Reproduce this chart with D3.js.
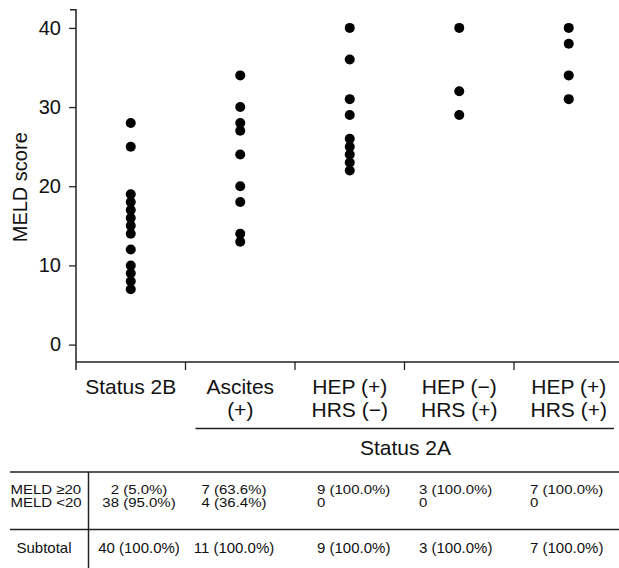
<!DOCTYPE html>
<html>
<head>
<meta charset="utf-8">
<script src="https://cdn.jsdelivr.net/npm/d3@7/dist/d3.min.js"></script>
<style>
  html, body { margin: 0; padding: 0; background: #fff; }
  svg { display: block; font-family: "Liberation Sans", Arial, Helvetica, sans-serif; }
</style>
</head>
<body>
<svg id="chart" width="619" height="568"></svg>
<script>
// ---- Data ----
const categories = ["Status 2B", "Ascites (+)", "HEP (+) HRS (−)", "HEP (−) HRS (+)", "HEP (+) HRS (+)"];
const categoryLines = [["Status 2B"], ["Ascites", "(+)"], ["HEP (+)", "HRS (−)"], ["HEP (−)", "HRS (+)"], ["HEP (+)", "HRS (+)"]];
const status2B = [28, 25, 19, 18, 17, 16, 15, 14, 12, 10, 9, 8, 7];
const ascites = [34, 30, 28, 27, 24, 20, 18, 14, 13];
const hepPosHrsNeg = [40, 36, 31, 29, 26, 25, 24, 23, 22];
const hepNegHrsPos = [40, 32, 29];
const hepPosHrsPos = [40, 38, 34, 31];
const seriesValues = [status2B, ascites, hepPosHrsNeg, hepNegHrsPos, hepPosHrsPos];
const yTicks = [0, 10, 20, 30, 40];
const yLabel = "MELD score";
const groupLabel = "Status 2A";
const tableRowLabels = ["MELD ≥20", "MELD <20"];
const meldHigh = ["2 (5.0%)", "7 (63.6%)", "9 (100.0%)", "3 (100.0%)", "7 (100.0%)"];
const meldLow = ["38 (95.0%)", "4 (36.4%)", "0", "0", "0"];
const subtotalLabel = "Subtotal";
const subtotal = ["40 (100.0%)", "11 (100.0%)", "9 (100.0%)", "3 (100.0%)", "7 (100.0%)"];

// ---- Layout ----
const svg = d3.select("#chart");
const W = 619;
const axisX = 76, axisBottom = 362, axisTop = 9.7;
const y = d3.scaleLinear().domain([-2.2, 42.3]).range([axisBottom, axisTop]);
const x = d3.scaleBand().domain(categories).range([axisX, 623.5]).padding(0);

// Y axis
const yAxis = d3.axisLeft(y).tickValues(yTicks).tickSize(7).tickSizeOuter(0).tickPadding(8);
const gy = svg.append("g").attr("transform", `translate(${axisX},0)`).call(yAxis);
gy.select(".domain").attr("d", `M-6,${axisTop}H0V${axisBottom + 8}`).attr("stroke", "#222").attr("stroke-width", 1.5);
gy.selectAll(".tick line").attr("stroke", "#222").attr("stroke-width", 1.3);
gy.selectAll(".tick text").attr("font-size", 20).attr("fill", "#111").attr("font-family", "Liberation Sans, Arial, sans-serif");

svg.append("text")
  .attr("transform", `translate(27,${(y(0) + y(40)) / 2 + 1}) rotate(-90)`)
  .attr("text-anchor", "middle")
  .attr("font-size", 20).attr("fill", "#111")
  .text(yLabel);

// X axis (category separators)
svg.append("line").attr("x1", axisX).attr("x2", W).attr("y1", axisBottom).attr("y2", axisBottom)
  .attr("stroke", "#222").attr("stroke-width", 1.5);
svg.selectAll(".xtick").data(categories.slice(1)).enter().append("line")
  .attr("x1", d => x(d)).attr("x2", d => x(d))
  .attr("y1", axisBottom).attr("y2", axisBottom + 8)
  .attr("stroke", "#222").attr("stroke-width", 1.3);

// Category labels
categories.forEach((c, i) => {
  const t = svg.append("text").attr("text-anchor", "middle").attr("font-size", 21).attr("fill", "#111");
  categoryLines[i].forEach((ln, j) => {
    t.append("tspan").attr("x", x(c) + x.bandwidth() / 2).attr("y", 394 + j * 23).text(ln);
  });
});

// Status 2A group
svg.append("line").attr("x1", x(categories[1]) + 10).attr("x2", 614)
  .attr("y1", 428.5).attr("y2", 428.5).attr("stroke", "#222").attr("stroke-width", 1.3);
svg.append("text").attr("x", (x(categories[1]) + 623.5) / 2 + 1).attr("y", 455)
  .attr("text-anchor", "middle").attr("font-size", 21).attr("fill", "#111").text(groupLabel);

// Dots
seriesValues.forEach((vals, i) => {
  svg.selectAll(null).data(vals).enter().append("circle")
    .attr("cx", x(categories[i]) + x.bandwidth() / 2)
    .attr("cy", d => y(d))
    .attr("r", 5)
    .attr("fill", "#000");
});

// Table
const tTop = 472, tMid = 529.5;
svg.append("line").attr("x1", 10).attr("x2", W).attr("y1", tTop).attr("y2", tTop).attr("stroke", "#222").attr("stroke-width", 1.3);
svg.append("line").attr("x1", 10).attr("x2", W).attr("y1", tMid).attr("y2", tMid).attr("stroke", "#222").attr("stroke-width", 1.3);
svg.append("line").attr("x1", 88.5).attr("x2", 88.5).attr("y1", tTop).attr("y2", 568).attr("stroke", "#222").attr("stroke-width", 1.5);

const tFont = 15, sy = 0.88;
const rowY = [493.5, 507];
function cell(xp, yp, anchor, txt) {
  svg.append("text")
    .attr("transform", `translate(${xp},${yp}) scale(1,${sy})`)
    .attr("text-anchor", anchor).attr("font-size", tFont).attr("fill", "#111").text(txt);
}
tableRowLabels.forEach((lab, j) => cell(10.5, rowY[j], "start", lab));
svg.append("text").attr("x", 44).attr("y", 553).attr("text-anchor", "middle").attr("font-size", tFont).attr("fill", "#111").text(subtotalLabel);

const colPos = [{x: 139, a: "middle"}, {x: 234, a: "middle"}, {x: 317, a: "start"}, {x: 419, a: "start"}, {x: 530, a: "start"}];
[meldHigh, meldLow].forEach((row, j) => {
  row.forEach((v, i) => cell(colPos[i].x, rowY[j], colPos[i].a, v));
});
subtotal.forEach((v, i) => {
  svg.append("text").attr("x", colPos[i].x).attr("y", 553)
    .attr("text-anchor", colPos[i].a).attr("font-size", tFont).attr("fill", "#111").text(v);
});
</script>
</body>
</html>
